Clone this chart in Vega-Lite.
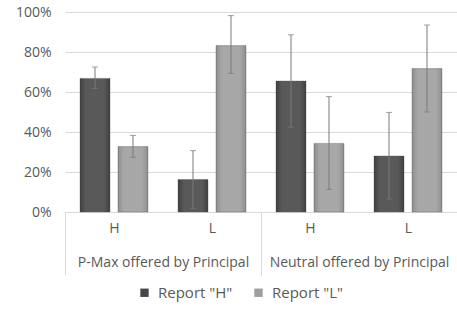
{
  "$schema": "https://vega.github.io/schema/vega-lite/v6.json",
  "width": 392,
  "height": 200,
  "autosize": "none",
  "padding": {"left": 65, "top": 12, "right": 0, "bottom": 99},
  "config": {
    "font": "Open Sans",
    "view": {"stroke": null},
    "axis": {"labelColor": "#595959", "labelFont": "Open Sans", "labelFontSize": 14},
    "axisY": {
      "title": null,
      "format": ".0%",
      "values": [0, 0.2, 0.4, 0.6, 0.8, 1],
      "domain": false,
      "ticks": false,
      "gridColor": "#d9d9d9",
      "labelPadding": 14,
      "labelOverlap": false
    },
    "legend": {"labelColor": "#595959", "labelFont": "Open Sans"}
  },
  "data": {
    "values": [
      {"group": "P-Max offered by Principal", "cat": "P-Max offered by Principal|H", "series": "Report \"H\"", "value": 0.668, "lo": 0.618, "hi": 0.725},
      {"group": "P-Max offered by Principal", "cat": "P-Max offered by Principal|H", "series": "Report \"L\"", "value": 0.327, "lo": 0.273, "hi": 0.383},
      {"group": "P-Max offered by Principal", "cat": "P-Max offered by Principal|L", "series": "Report \"H\"", "value": 0.162, "lo": 0.018, "hi": 0.307},
      {"group": "P-Max offered by Principal", "cat": "P-Max offered by Principal|L", "series": "Report \"L\"", "value": 0.832, "lo": 0.693, "hi": 0.982},
      {"group": "Neutral offered by Principal", "cat": "Neutral offered by Principal|H", "series": "Report \"H\"", "value": 0.655, "lo": 0.424, "hi": 0.886},
      {"group": "Neutral offered by Principal", "cat": "Neutral offered by Principal|H", "series": "Report \"L\"", "value": 0.343, "lo": 0.113, "hi": 0.577},
      {"group": "Neutral offered by Principal", "cat": "Neutral offered by Principal|L", "series": "Report \"H\"", "value": 0.28, "lo": 0.065, "hi": 0.498},
      {"group": "Neutral offered by Principal", "cat": "Neutral offered by Principal|L", "series": "Report \"L\"", "value": 0.717, "lo": 0.5, "hi": 0.935}
    ]
  },
  "layer": [
    {
      "encoding": {
        "x": {
          "field": "cat",
          "type": "nominal",
          "sort": null,
          "scale": {"paddingInner": 0, "paddingOuter": 0},
          "axis": {
            "title": null,
            "labelAngle": 0,
            "labelExpr": "split(datum.label, '|')[1]",
            "labelColor": "#595959",
            "labelOffset": 0.5,
            "ticks": false,
            "domainColor": "#d9d9d9",
            "labelPadding": 9,
            "grid": false
          }
        },
        "xOffset": {
          "field": "series",
          "type": "nominal",
          "scale": {"paddingInner": 0.21, "paddingOuter": 0.395}
        }
      },
      "layer": [
        {
          "mark": {"type": "bar", "stroke": "#3a3a3a", "strokeOpacity": 0.3, "strokeWidth": 1},
          "encoding": {
            "y": {
              "field": "value",
              "type": "quantitative",
              "scale": {"domain": [0, 1], "nice": false}
            },
            "color": {
              "field": "series",
              "type": "nominal",
              "scale": {"range": ["#474747", "#9e9e9e"]},
              "legend": {
                "title": null,
                "orient": "none",
                "legendX": 72,
                "legendY": 273,
                "direction": "horizontal",
                "symbolType": "square",
                "symbolSize": 70,
                "symbolStrokeWidth": 0,
                "labelFontSize": 15,
                "labelOffset": 6,
                "columnPadding": 18
              }
            }
          }
        },
        {
          "mark": {
            "type": "bar",
            "color": {
              "gradient": "linear",
              "x1": 0, "x2": 1, "y1": 0, "y2": 0,
              "stops": [
                {"offset": 0, "color": "#000000"},
                {"offset": 0.2, "color": "#ffffff"},
                {"offset": 0.8, "color": "#ffffff"},
                {"offset": 1, "color": "#000000"}
              ]
            },
            "opacity": 0.1
          },
          "encoding": {
            "y": {"field": "value", "type": "quantitative"}
          }
        },
        {
          "mark": {"type": "rule", "color": "#7a7a7a", "strokeWidth": 1},
          "encoding": {
            "y": {"field": "lo", "type": "quantitative"},
            "y2": {"field": "hi"}
          }
        },
        {
          "mark": {"type": "tick", "color": "#7a7a7a", "size": 6, "thickness": 1},
          "encoding": {"y": {"field": "hi", "type": "quantitative"}}
        },
        {
          "mark": {"type": "tick", "color": "#7a7a7a", "size": 6, "thickness": 1},
          "encoding": {"y": {"field": "lo", "type": "quantitative"}}
        }
      ]
    },
    {
      "mark": {"type": "tick", "opacity": 0},
      "encoding": {
        "x": {
          "field": "group",
          "type": "nominal",
          "sort": null,
          "scale": {"paddingInner": 0, "paddingOuter": 0},
          "axis": {
            "title": null,
            "orient": "bottom",
            "labelAngle": 0,
            "labelColor": "#595959",
            "domain": false,
            "tickBand": "extent",
            "tickSize": 63,
            "tickColor": "#d9d9d9",
            "labelPadding": -20,
            "grid": false
          }
        },
        "y": {"field": "value", "type": "quantitative"}
      }
    }
  ],
  "resolve": {"scale": {"x": "independent"}, "axis": {"x": "independent"}}
}
